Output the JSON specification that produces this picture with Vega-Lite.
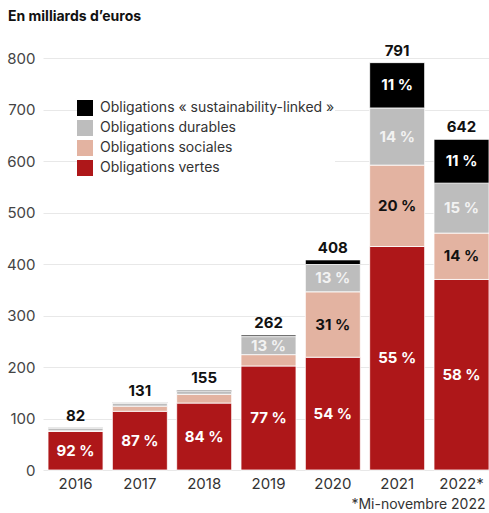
{
  "$schema": "https://vega.github.io/schema/vega-lite/v6.json",
  "width": 446,
  "height": 412,
  "autosize": "none",
  "padding": {"left": 43, "top": 58, "right": 0, "bottom": 43},
  "title": {"text": "En milliards d’euros", "anchor": "start", "frame": "group", "dx": -35, "offset": 20, "fontSize": 14, "fontWeight": "bold", "color": "#111111", "font": "Inter"},
  "data": {"values": [
    {"annee": "2016", "type": "Obligations vertes", "rang": 1, "valeur": 75, "pct": "92 %"},
    {"annee": "2016", "type": "Obligations sociales", "rang": 2, "valeur": 1, "pct": ""},
    {"annee": "2016", "type": "Obligations durables", "rang": 3, "valeur": 5, "pct": ""},
    {"annee": "2016", "type": "Obligations « sustainability-linked »", "rang": 4, "valeur": 1, "pct": ""},
    {"annee": "2017", "type": "Obligations vertes", "rang": 1, "valeur": 114, "pct": "87 %"},
    {"annee": "2017", "type": "Obligations sociales", "rang": 2, "valeur": 10, "pct": ""},
    {"annee": "2017", "type": "Obligations durables", "rang": 3, "valeur": 6, "pct": ""},
    {"annee": "2017", "type": "Obligations « sustainability-linked »", "rang": 4, "valeur": 1, "pct": ""},
    {"annee": "2018", "type": "Obligations vertes", "rang": 1, "valeur": 130, "pct": "84 %"},
    {"annee": "2018", "type": "Obligations sociales", "rang": 2, "valeur": 17, "pct": ""},
    {"annee": "2018", "type": "Obligations durables", "rang": 3, "valeur": 6, "pct": ""},
    {"annee": "2018", "type": "Obligations « sustainability-linked »", "rang": 4, "valeur": 2, "pct": ""},
    {"annee": "2019", "type": "Obligations vertes", "rang": 1, "valeur": 202, "pct": "77 %"},
    {"annee": "2019", "type": "Obligations sociales", "rang": 2, "valeur": 22, "pct": ""},
    {"annee": "2019", "type": "Obligations durables", "rang": 3, "valeur": 35, "pct": "13 %"},
    {"annee": "2019", "type": "Obligations « sustainability-linked »", "rang": 4, "valeur": 3, "pct": ""},
    {"annee": "2020", "type": "Obligations vertes", "rang": 1, "valeur": 219, "pct": "54 %"},
    {"annee": "2020", "type": "Obligations sociales", "rang": 2, "valeur": 127, "pct": "31 %"},
    {"annee": "2020", "type": "Obligations durables", "rang": 3, "valeur": 53, "pct": "13 %"},
    {"annee": "2020", "type": "Obligations « sustainability-linked »", "rang": 4, "valeur": 9, "pct": ""},
    {"annee": "2021", "type": "Obligations vertes", "rang": 1, "valeur": 434, "pct": "55 %"},
    {"annee": "2021", "type": "Obligations sociales", "rang": 2, "valeur": 158, "pct": "20 %"},
    {"annee": "2021", "type": "Obligations durables", "rang": 3, "valeur": 111, "pct": "14 %"},
    {"annee": "2021", "type": "Obligations « sustainability-linked »", "rang": 4, "valeur": 88, "pct": "11 %"},
    {"annee": "2022*", "type": "Obligations vertes", "rang": 1, "valeur": 370, "pct": "58 %"},
    {"annee": "2022*", "type": "Obligations sociales", "rang": 2, "valeur": 90, "pct": "14 %"},
    {"annee": "2022*", "type": "Obligations durables", "rang": 3, "valeur": 97, "pct": "15 %"},
    {"annee": "2022*", "type": "Obligations « sustainability-linked »", "rang": 4, "valeur": 85, "pct": "11 %"}
  ]},
  "encoding": {
    "x": {
      "field": "annee", "type": "ordinal", "sort": null,
      "scale": {"paddingInner": 0.145, "paddingOuter": 0.039, "align": 1},
      "axis": {
        "labelAngle": 0, "domain": false, "ticks": false, "labelPadding": 6,
        "labelFontSize": 15, "labelColor": "#333333",
        "title": "*Mi-novembre 2022", "titleAnchor": "end", "titleAlign": "right",
        "titleX": 442, "titleY": 38, "titleBaseline": "alphabetic",
        "titleFontSize": 14, "titleFontWeight": "normal", "titleColor": "#333333"
      }
    }
  },
  "layer": [
    {
      "mark": {"type": "bar", "stroke": "white", "strokeWidth": 0.8},
      "encoding": {
        "y": {"field": "valeur", "type": "quantitative", "stack": "zero",
              "scale": {"domain": [0, 800], "nice": false},
              "axis": {"title": null, "values": [0, 100, 200, 300, 400, 500, 600, 700, 800]}},
        "color": {
          "field": "type", "type": "nominal",
          "scale": {
            "domain": ["Obligations « sustainability-linked »", "Obligations durables", "Obligations sociales", "Obligations vertes"],
            "range": ["#000000", "#bdbdbd", "#e3b3a1", "#ae1719"]
          },
          "legend": {
            "title": null, "orient": "none", "legendX": 34, "legendY": 42,
            "symbolType": "square", "symbolSize": 256, "symbolStrokeWidth": 0, "symbolOpacity": 1,
            "labelFontSize": 14, "labelColor": "#333333", "rowPadding": 4, "labelOffset": 7,
            "labelLimit": 400, "fillColor": "white", "padding": 0
          }
        },
        "order": {"field": "rang", "type": "quantitative"}
      }
    },
    {
      "transform": [
        {"stack": "valeur", "groupby": ["annee"], "sort": [{"field": "rang"}], "as": ["v0", "v1"]},
        {"calculate": "(datum.v0 + datum.v1) / 2", "as": "milieu"}
      ],
      "mark": {"type": "text", "fontSize": 15, "fontWeight": "bold", "baseline": "middle"},
      "encoding": {
        "y": {"field": "milieu", "type": "quantitative"},
        "text": {"field": "pct"},
        "color": {
          "condition": [
            {"test": "datum.type === 'Obligations sociales'", "value": "#111111"},
            {"test": "datum.type === 'Obligations durables'", "value": "#f2f2f2"}
          ],
          "value": "#ffffff"
        }
      }
    },
    {
      "transform": [
        {"aggregate": [{"op": "sum", "field": "valeur", "as": "total"}], "groupby": ["annee"]}
      ],
      "mark": {"type": "text", "fontSize": 15, "fontWeight": "bold", "baseline": "alphabetic", "dy": -7, "color": "#111111"},
      "encoding": {
        "y": {"field": "total", "type": "quantitative"},
        "text": {"field": "total", "type": "quantitative"}
      }
    }
  ],
  "config": {
    "view": {"stroke": null},
    "font": "Inter",
    "axisY": {
      "domain": false, "ticks": false, "labelPadding": 8, "labelFontSize": 15,
      "labelColor": "#444444", "gridColor": "#e8e8e8", "gridWidth": 1
    }
  }
}
